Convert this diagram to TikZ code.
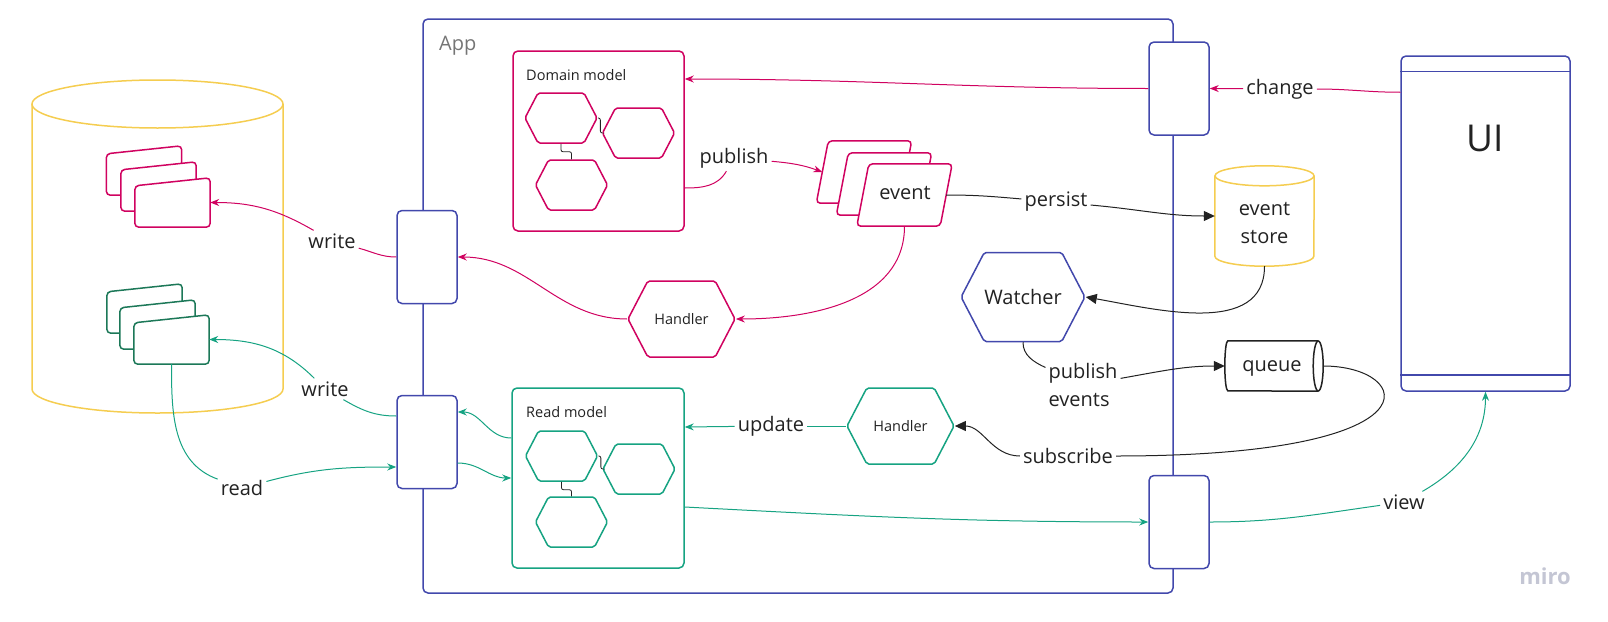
\documentclass[tikz,border=0pt]{standalone}
\usepackage{fontspec}
\setmainfont{Open Sans}
\usetikzlibrary{shapes.symbols,arrows.meta,calc}

\definecolor{mblue}{RGB}{66,72,172}
\definecolor{mpink}{RGB}{208,2,96}
\definecolor{mteal}{RGB}{22,163,130}
\definecolor{mgreen}{RGB}{28,120,88}
\definecolor{myellow}{RGB}{245,205,80}
\definecolor{mtext}{RGB}{34,34,34}
\definecolor{mgray}{RGB}{117,117,117}
\definecolor{mlogo}{RGB}{196,198,212}

\tikzset{
  box/.style={draw, rectangle, rounded corners=5pt, line width=1.5pt, fill=white, inner sep=0pt},
  port/.style={box, draw=mblue, minimum width=60pt, minimum height=93pt},
  anchorbox/.style={draw=none, rectangle, inner sep=0pt},
  hexa/.style={shape=signal, signal to=east and west, signal pointer angle=125, draw, line width=1.5pt, rounded corners=2pt, inner sep=0pt, fill=white, text=mtext},
  smallhex/.style={hexa, minimum width=72pt, minimum height=50pt},
  hexlink/.style={draw=mtext, line width=0.8pt, rounded corners=2pt},
  lbl/.style={font=\fontsize{20}{24}\selectfont, text=mtext, inner sep=3pt},
  pinkline/.style={draw=mpink, line width=1pt},
  pinkarrow/.style={pinkline, -{Stealth[length=9pt,width=7pt]}},
  tealline/.style={draw=mteal, line width=1pt},
  tealarrow/.style={tealline, -{Stealth[length=9pt,width=7pt]}},
  blackline/.style={draw=mtext, line width=1pt},
  blackarrow/.style={blackline, -{Triangle[length=11pt,width=10pt]}}
}

\newcommand{\dbcard}[4]{%
  \node[anchorbox, minimum width=75pt, minimum height=49pt] (#1) at (#2,#3) {};
  \draw[#4, line width=1.5pt, fill=white, rounded corners=4pt] (#1.south west) -- ([yshift=-8pt]#1.north west) -- (#1.north east) -- (#1.south east) -- cycle;}
\newcommand{\evcard}[3]{%
  \node[anchorbox, minimum width=95pt, minimum height=62pt] (#1) at (#2,#3) {};
  \draw[mpink, line width=1.5pt, fill=white, rounded corners=4pt] (#1.south west) -- ([xshift=-12pt]#1.south east) -- (#1.north east) -- ([xshift=12pt]#1.north west) -- cycle;}

\begin{document}
\begin{tikzpicture}[x=1pt, y=-1pt]
\useasboundingbox (0,0) rectangle (1608,621);

\draw[myellow, line width=1.5pt] (32,104) -- (32,389) arc[start angle=180, end angle=360, x radius=125.5pt, y radius=24pt] -- (283,104);
\draw[myellow, line width=1.5pt] (157.5,104) ellipse [x radius=125.5pt, y radius=24pt];

\dbcard{pc1}{144}{170.5}{mpink}
\dbcard{pc2}{158.5}{186.5}{mpink}
\dbcard{pc3}{172.5}{202.5}{mpink}
\dbcard{gc1}{144.5}{308.5}{mgreen}
\dbcard{gc2}{157.5}{324.5}{mgreen}
\dbcard{gc3}{171.5}{339.5}{mgreen}

\node[box, draw=mblue, fill=none, minimum width=750pt, minimum height=574pt] (app) at (798,306) {};
\node[lbl, text=mgray, anchor=base west] (applabel) at (436,50) {App};

\node[box, draw=mpink, minimum width=171pt, minimum height=180pt] (dm) at (598.5,141) {};
\node[font=\fontsize{14.5}{17}\selectfont, text=mtext, anchor=base west, inner sep=0pt] (dmlabel) at (526,80) {Domain model};
\node[smallhex, draw=mpink] (dh1) at (561,118) {};
\node[smallhex, draw=mpink] (dh2) at (638.5,133) {};
\node[smallhex, draw=mpink] (dh3) at (571.5,185) {};
\draw[hexlink] (dh1.south) -- ++(0,8) -| (dh3.north);
\draw[hexlink] (dh1.east) -- ++(2.5,0) |- (dh2.west);

\node[box, draw=mteal, minimum width=172pt, minimum height=180pt] (rm) at (598,478) {};
\node[font=\fontsize{14.5}{17}\selectfont, text=mtext, anchor=base west, inner sep=0pt] (rmlabel) at (526,417) {Read model};
\node[smallhex, draw=mteal] (rh1) at (561.5,456) {};
\node[smallhex, draw=mteal] (rh2) at (639,469) {};
\node[smallhex, draw=mteal] (rh3) at (571.5,522) {};
\draw[hexlink] (rh1.south) -- ++(0,8) -| (rh3.north);
\draw[hexlink] (rh1.east) -- ++(2.5,0) |- (rh2.west);

\node[port] (portW1) at (427,257) {};
\node[port] (portW2) at (427,442) {};
\node[port] (portE1) at (1179,88.5) {};
\node[port] (portE2) at (1179,522) {};

\node[box, draw=mblue, minimum width=169pt, minimum height=335pt] (ui) at (1485.5,223.5) {};
\draw[mblue, line width=1.5pt] ([yshift=-16pt]ui.north west) -- ([yshift=-16pt]ui.north east);
\draw[mblue, line width=1.5pt] ([yshift=17pt]ui.south west) -- ([yshift=17pt]ui.south east);
\node[font=\fontsize{37}{40}\selectfont, text=mtext] (uitext) at (1485,138) {UI};

\evcard{ec1}{864}{172}
\evcard{ec2}{884}{184}
\evcard{ec3}{904.5}{195}
\node[lbl] (evlabel) at (905,193) {event};

\node[anchorbox, minimum width=99pt, minimum height=100pt] (estore) at (1264.5,216) {};
\draw[myellow, line width=1.5pt, fill=white] ([yshift=-10pt]estore.north west) -- ([yshift=10pt]estore.south west) arc[start angle=180, end angle=360, x radius=49.5pt, y radius=10pt] -- ([yshift=-10pt]estore.north east);
\draw[myellow, line width=1.5pt] ([yshift=-10pt]estore.north) ellipse [x radius=49.5pt, y radius=10pt];
\node[lbl, font=\fontsize{20}{28}\selectfont, align=center] (estoretext) at (1264.5,223) {event\\store};

\node[anchorbox, minimum width=98pt, minimum height=50pt] (queue) at (1274,366) {};
\draw[mtext, line width=1.5pt, fill=white] ([xshift=-5pt]queue.north east) -- ([xshift=3pt]queue.north west) arc[start angle=90, end angle=270, x radius=3pt, y radius=25pt] -- ([xshift=-5pt]queue.south east);
\draw[mtext, line width=1.5pt] ([xshift=-5pt]queue.east) ellipse [x radius=5pt, y radius=25pt];
\node[lbl] (queuetext) at (1272,368) {queue};

\node[hexa, draw=mblue, minimum width=119pt, minimum height=89pt, font=\fontsize{20}{24}\selectfont] (watcher) at (1023,297) {Watcher};
\node[hexa, draw=mpink, minimum width=107pt, minimum height=76pt, font=\fontsize{14.5}{17}\selectfont] (hdlP) at (681.5,319) {Handler};
\node[hexa, draw=mteal, minimum width=107pt, minimum height=76pt, font=\fontsize{14.5}{17}\selectfont] (hdlG) at (900.5,426) {Handler};

\node[lbl] (chg) at (1280,89) {change};
\node[lbl] (pub) at (734,158) {publish};
\node[lbl] (per) at (1056,202) {persist};
\node[lbl] (w1) at (332,241) {write};
\node[lbl] (w2) at (325,389) {write};
\node[lbl] (rd) at (242,488) {read};
\node[lbl] (upd) at (771,426) {update};
\node[lbl] (view) at (1404,502) {view};
\node[lbl, font=\fontsize{20}{28}\selectfont, align=left] (pe) at (1083,385) {publish\\events};
\node[lbl] (sub) at (1068,456) {subscribe};

\draw[pinkline] ([yshift=-37pt]ui.north west) to[out=180,in=0] (chg);
\draw[pinkarrow] (chg) -- (portE1.east);
\draw[pinkarrow] (portE1.west) to[out=180,in=0] ([yshift=62pt]dm.east);
\draw[pinkline] ([yshift=-47pt]dm.east) to[out=0,in=-120] (pub);
\draw[pinkarrow] (pub) to[out=-5,in=160] ([xshift=6pt]ec1.west);
\draw[blackline] ([xshift=-6pt]ec3.east) to[out=0,in=175] (per);
\draw[blackarrow] (per) to[out=-5,in=180] (estore.west);
\draw[blackarrow] (estore.south) to[out=-90,in=-10] (watcher.east);
\draw[pinkarrow] (ec3.south) to[out=-90,in=0] (hdlP.east);
\draw[pinkarrow] (hdlP.west) to[out=180,in=0] (portW1.east);
\draw[pinkline] (portW1.west) to[out=180,in=-15] (w1);
\draw[pinkarrow] (w1) to[out=150,in=0] (pc3.east);

\draw[tealline] ([yshift=26pt]portW2.west) to[out=180,in=-30] (w2);
\draw[tealarrow] (w2) to[out=135,in=0] (gc3.east);
\draw[tealline] (gc3.south) to[out=-90,in=160] (rd);
\draw[tealarrow] (rd) to[out=15,in=180] ([yshift=-25pt]portW2.west);
\draw[tealarrow] ([yshift=40pt]rm.west) to[out=180,in=0] ([yshift=30pt]portW2.east);
\draw[tealarrow] ([yshift=-21pt]portW2.east) to[out=0,in=180] (rm.west);
\draw[tealline] (hdlG.west) -- (upd);
\draw[tealarrow] (upd) -- ([yshift=51pt]rm.east);
\draw[tealarrow] ([yshift=-29pt]rm.east) to[out=-3,in=180] (portE2.west);
\draw[tealline] (portE2.east) to[out=0,in=188] (view);
\draw[tealarrow] (view) to[out=30,in=-90] (ui.south);

\draw[blackline] (watcher.south) to[out=-90,in=155] (pe);
\draw[blackarrow] (pe) to[out=10,in=180] (queue.west);
\draw[blackline] (queue.east) .. controls +(90,0) and +(330,0) .. (sub.east);
\draw[blackarrow] (sub) to[out=180,in=0] (hdlG.east);

\node[font=\fontsize{22}{24}\selectfont\bfseries, text=mlogo] (miro) at (1545,576) {miro};
\end{tikzpicture}
\end{document}
